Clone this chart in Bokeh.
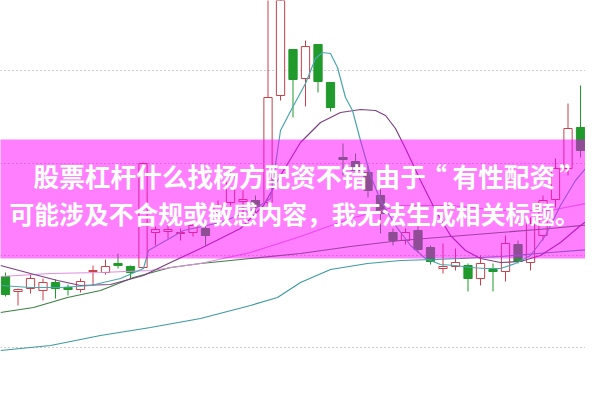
from bokeh.plotting import figure
from bokeh.models import Range1d
from bokeh.core.properties import value
from bokeh.embed import file_html
from bokeh.resources import INLINE

# ---- candle data (price units = chart height units) ----
opens  = [124,109,112,110,118,113,111,129,128,137,134,133,168,169,167,168,172,188,198,199,200,
          198,305,351,322,356,318,243,239,228,205,168,160,170,153,132,134,135,122,131,129,156,
          138,165,201,232,273,225]
closes = [106,111,122,118,112,111,119,130,134,135,128,237,171,171,168,175,165,195,227,201,194,
          303,420,321,354,319,293,241,230,210,187,160,168,151,139,134,138,122,137,129,157,139,
          177,200,232,272,250,236]
highs  = [128,112,126,122,121,116,122,135,141,147,135,238,174,176,172,178,175,200,230,210,205,
          405,425,351,360,356,318,257,247,235,212,172,172,174,155,157,152,137,145,137,165,160,
          183,205,242,297,315,278]
lows   = [104,95,107,100,102,105,108,115,126,132,122,132,155,162,160,164,155,180,195,188,185,
          195,300,283,294,308,289,225,225,203,167,155,156,148,136,127,130,109,115,109,119,137,
          130,160,193,225,243,203]

# ---- moving-average lines (read at knots: bar position, level) ----
ma5_x  = [-0.4,2.0,4.4,6.8,9.2,11.04,11.44,14.24,17.2,20.0,21.2,22.0,22.96,24.0,24.8,25.36,26.0,
          26.56,27.2,27.76,28.4,29.2,30.0,31.2,32.4,33.6,34.8,36.0,37.2,38.4,39.6,40.8,42.0,43.2,
          44.4,45.6,46.8,47.68]
ma5_y  = [115,113,113,115,122,132,150,170,178,192,202,270,293,317,342,348,347,333,303,290,260,
          225,200,175,155,142,136,135,133,132,132,137,145,165,195,220,238,245]
ma10_x = [-0.4,2.0,4.16,6.0,8.4,11.04,13.2,15.6,18.8,20.64,22.0,23.6,25.2,26.8,28.4,29.6,30.4,
          31.2,32.0,33.2,34.4,35.6,36.8,38.0,39.6,41.2,42.8,44.4,46.0,47.68]
ma10_y = [135,127,120,115,116,125,138,152,172,195,225,258,278,288,291,290,285,272,252,220,190,
          165,150,142,138,139,145,158,175,190]
ma20_x = [-0.4,3.6,7.6,11.6,15.6,19.6,23.6,27.6,31.6,35.6,39.6,43.6,47.68]
ma20_y = [124,127,128,130,137,148,164,182,195,195,190,190,200]
ma30_x = [-0.4,2.24,4.96,7.6,10.24,13.2,15.6,19.6,23.6,27.6,31.6,35.6,39.6,43.6,47.68]
ma30_y = [88,93,103,110,123,133,137,142,147,154,160,164,168,172,177]
ma60_x = [-0.4,3.6,7.6,11.6,15.6,19.6,21.76,23.6,26.0,28.96,31.6,34.24,36.4,39.6,43.6,47.68]
ma60_y = [50,55,65,73,82,95,103,118,131,137,140,141,142,144,148,152]

grid_levels = [330, 237, 145, 53]
band_bottom, band_top = 142, 261

# title line 1 is set in pieces so its spacing follows the picture
title_line1_parts = ["股票杠杆什么找杨方配资不错", "由于", "“", "有性配资", "”"]
title_line1_x = [2.24, 29.52, 33.25, 35.76, 44.3]
title_line2 = "可能涉及不合规或敏感内容，我无法生成相关标题。"

RED = "#c8414b"
GREEN = "#1f9a2b"

p = figure(width=585, height=384, x_range=Range1d(-0.4, 46.4), y_range=Range1d(16, 400),
           output_backend="svg", toolbar_location=None, min_border=0,
           x_axis_location=None, y_axis_location=None)
p.grid.visible = False
p.outline_line_color = None
p.background_fill_color = "white"
p.border_fill_color = "white"

# dotted horizontal guide lines
n = len(grid_levels)
p.segment(x0=[-2]*n, x1=[50]*n, y0=grid_levels, y1=grid_levels,
          line_color="#9a9a9a", line_width=1, line_dash="1 3")

idx = list(range(len(opens)))
up = [c >= o for o, c in zip(opens, closes)]
cols = [RED if u else GREEN for u in up]
fills = ["white" if u else GREEN for u in up]
tops = [max(o, c) for o, c in zip(opens, closes)]
bots = [min(o, c) for o, c in zip(opens, closes)]
bots = [b if t - b >= 1 else t - 1 for t, b in zip(tops, bots)]

p.segment(x0=idx, x1=idx, y0=highs, y1=lows, line_color=cols, line_width=1)
p.vbar(x=idx, width=0.66, top=tops, bottom=bots, fill_color=fills, line_color=cols, line_width=1)

p.line(ma60_x, ma60_y, line_color="#3e9aa0", line_width=1.2)
p.line(ma30_x, ma30_y, line_color="#3f7f45", line_width=1.2)
p.line(ma20_x, ma20_y, line_color="#e08ee0", line_width=1.2)
p.line(ma10_x, ma10_y, line_color="#7d3f84", line_width=1.2)
p.line(ma5_x, ma5_y, line_color="#4aa6ae", line_width=1.2)

# translucent magenta band
p.quad(left=[-2], right=[50], bottom=[band_bottom], top=[band_top],
       fill_color="#ff00ff", fill_alpha=0.5, line_color=None)

p.text(x=title_line1_x, y=[225]*len(title_line1_parts), text=title_line1_parts,
       text_font=value("Noto Sans CJK SC"),
       text_font_style="bold", text_font_size="25.7px", text_color="white",
       text_align="left", text_baseline="middle")
p.text(x=[0.32], y=[188], text=[title_line2], text_font=value("Noto Sans CJK SC"),
       text_font_style="bold", text_font_size="24.8px", text_color="white",
       text_align="left", text_baseline="middle")

open("out.html", "w").write(file_html(p, INLINE))
